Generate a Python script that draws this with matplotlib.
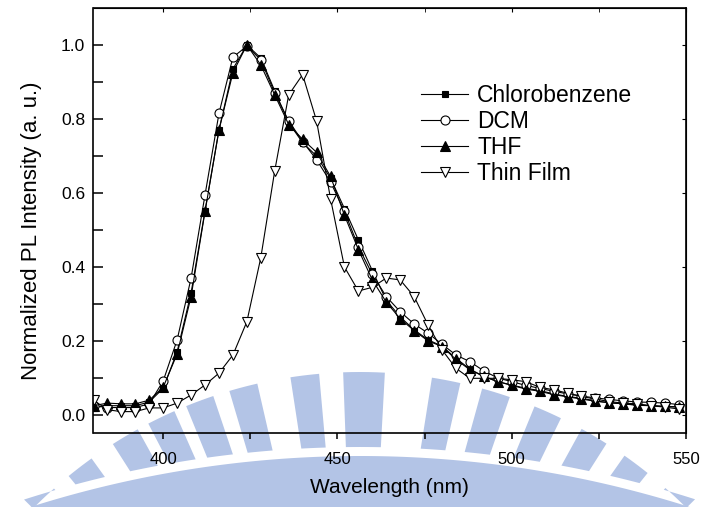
import numpy as np
import matplotlib
matplotlib.use("Agg")
import matplotlib.pyplot as plt
from matplotlib.patches import Polygon

# Emission wavelengths (nm), sampled every 4 nm
wavelength = [380, 384, 388, 392, 396, 400, 404, 408, 412, 416, 420, 424, 428,
              432, 436, 440, 444, 448, 452, 456, 460, 464, 468, 472, 476, 480,
              484, 488, 492, 496, 500, 504, 508, 512, 516, 520, 524, 528, 532,
              536, 540, 544, 548]

chlorobenzene = [0.020, 0.025, 0.025, 0.025, 0.035, 0.072, 0.171, 0.330, 0.552,
                 0.770, 0.935, 1.000, 0.965, 0.876, 0.790, 0.736, 0.700, 0.640,
                 0.558, 0.473, 0.390, 0.310, 0.265, 0.230, 0.203, 0.186, 0.153,
                 0.124, 0.104, 0.090, 0.081, 0.072, 0.066, 0.057, 0.050, 0.045,
                 0.038, 0.033, 0.030, 0.026, 0.025, 0.023, 0.021]

dcm = [0.025, 0.020, 0.020, 0.020, 0.030, 0.092, 0.203, 0.370, 0.595, 0.815,
       0.967, 0.997, 0.960, 0.870, 0.795, 0.739, 0.690, 0.630, 0.550, 0.455,
       0.380, 0.320, 0.279, 0.246, 0.221, 0.191, 0.162, 0.144, 0.119, 0.100,
       0.090, 0.080, 0.072, 0.064, 0.057, 0.051, 0.046, 0.042, 0.038, 0.035,
       0.034, 0.032, 0.028]

thf = [0.025, 0.032, 0.030, 0.030, 0.040, 0.075, 0.165, 0.320, 0.550, 0.770,
       0.925, 1.000, 0.946, 0.865, 0.785, 0.745, 0.710, 0.645, 0.540, 0.447,
       0.365, 0.305, 0.260, 0.228, 0.200, 0.185, 0.150, 0.122, 0.104, 0.090,
       0.080, 0.070, 0.064, 0.055, 0.049, 0.043, 0.037, 0.033, 0.030, 0.027,
       0.025, 0.023, 0.022]

thin_film = [0.040, 0.014, 0.009, 0.009, 0.019, 0.019, 0.032, 0.054, 0.081,
             0.113, 0.162, 0.252, 0.425, 0.660, 0.865, 0.920, 0.795, 0.585,
             0.400, 0.335, 0.345, 0.370, 0.365, 0.320, 0.243, 0.176, 0.126,
             0.099, 0.099, 0.099, 0.095, 0.090, 0.075, 0.068, 0.059, 0.050,
             0.043, 0.036, 0.032, 0.030, 0.025, 0.021, 0.016]

series_labels = ["Chlorobenzene", "DCM", "THF", "Thin Film"]
x_ticks = [400, 450, 500, 550]
y_ticks = [0.0, 0.2, 0.4, 0.6, 0.8, 1.0]

plt.rcParams["font.family"] = ["Liberation Sans", "DejaVu Sans"]

W, H = 702, 507
fig = plt.figure(figsize=(W / 100, H / 100), dpi=100)
fig.patch.set_facecolor("white")

# --- faint blue emblem in the lower background -------------------------------
wm_color = (0.70, 0.77, 0.90)
c1 = np.array([360.0, 832.0])    # centre of the fan of bars (pixels, y down)
r_top = 460.0
r_gap_top = 1100.0
c2 = np.array([360.0, 447.0 + r_gap_top])   # centre of the ring below the bars
r_gap_bot, r_ring_in = r_gap_top - 9.0, r_gap_top - 110.0


def px_to_fig(pts):
    return [(x / W, 1 - y / H) for x, y in pts]


def unit(a):
    return np.array([np.sin(a), -np.cos(a)])


def ray_exit(a):
    """Distance along a ray from c1 at which it meets the ring gap."""
    d = unit(a)
    off = c1 - c2
    b = np.dot(off, d)
    c = np.dot(off, off) - r_gap_top ** 2
    return -b + np.sqrt(b * b - c)


def add_poly(pts):
    fig.patches.append(Polygon(px_to_fig(pts), closed=True, transform=fig.transFigure,
                               facecolor=wm_color, edgecolor="none", zorder=-5))


bar_centres = [-43.5, -37.5, -30.7, -25.6, -20.4, -14.7, -6.9, 0.5, 10.8,
               17.2, 24.1, 30.6, 36.9, 43.4, 50.0]
for ang in bar_centres:
    half = 2.6 if abs(ang) < 1 else 1.8
    angs = np.deg2rad(np.linspace(ang - half, ang + half, 6))
    top = [c1 + r_top * unit(a) for a in angs]
    bot = [c1 + ray_exit(a) * unit(a) for a in angs[::-1]]
    add_poly([tuple(p) for p in top + bot])

ring_angs = np.deg2rad(np.linspace(-25, 25, 120))
outer = [tuple(c2 + r_gap_bot * unit(a)) for a in ring_angs]
inner = [tuple(c2 + r_ring_in * unit(a)) for a in ring_angs[::-1]]
add_poly(outer + inner)

# --- main axes ---------------------------------------------------------------
ax = fig.add_axes([93.5 / W, 1 - 432.7 / H, (686 - 93.5) / W, (432.7 - 8) / H])
ax.patch.set_alpha(0)

styles = [
    dict(marker="s", markersize=5.0, markerfacecolor="black"),
    dict(marker="o", markersize=6.5, markerfacecolor="white"),
    dict(marker="^", markersize=7.0, markerfacecolor="black"),
    dict(marker="v", markersize=7.5, markerfacecolor="white"),
]
for y, lab, st in zip([chlorobenzene, dcm, thf, thin_film], series_labels, styles):
    ax.plot(wavelength, y, color="black", linewidth=0.8, markeredgecolor="black",
            markeredgewidth=0.8, label=lab, **st)

ax.set_xlim(380, 550)
ax.set_ylim(-0.048, 1.1)
ax.set_xticks(x_ticks)
ax.set_xticks([425, 475, 525], minor=True)
ax.set_yticks(y_ticks)
ax.set_yticks([0.1, 0.3, 0.5, 0.7, 0.9], minor=True)
ax.set_yticklabels([f"{v:.1f}" for v in y_ticks])

for s in ax.spines.values():
    s.set_linewidth(1.2)

ax.tick_params(axis="x", which="both", direction="out", length=4, width=1.1,
               labelsize=12, pad=10, top=False)
ax.tick_params(axis="y", which="both", direction="in", length=7, width=1.1,
               labelsize=12.5, pad=6, right=False)

sec_x = ax.secondary_xaxis("top")
sec_x.set_xticks(x_ticks)
sec_x.set_xticks([425, 475, 525], minor=True)
sec_x.tick_params(which="both", direction="in", length=3, labeltop=False)
sec_y = ax.secondary_yaxis("right")
sec_y.set_yticks(y_ticks)
sec_y.tick_params(which="both", direction="in", length=3, labelright=False)

ax.set_xlabel("Wavelength (nm)", fontsize=15, labelpad=8)
ax.set_ylabel("Normalized PL Intensity (a. u.)", fontsize=16)
ax.yaxis.set_label_coords(-0.087, 0.475)

ax.legend(loc="upper left", bbox_to_anchor=(0.553, 0.821), frameon=False,
          fontsize=16.5, handlelength=2.05, handletextpad=0.39, labelspacing=0.13,
          borderpad=0, borderaxespad=0)

fig.savefig("out.png", dpi=100)
